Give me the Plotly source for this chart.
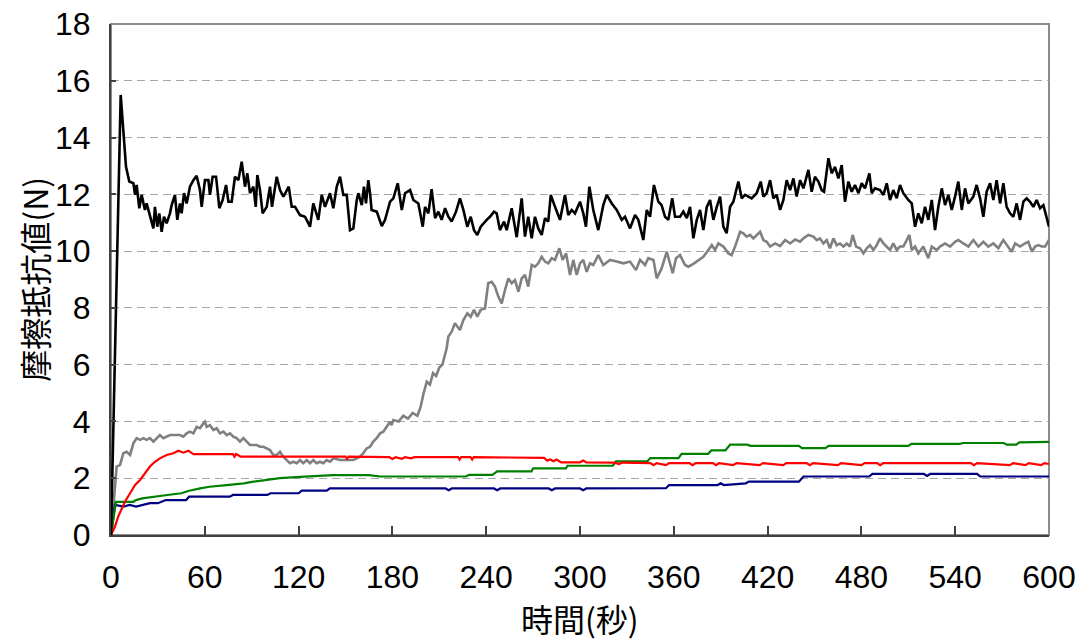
import plotly.graph_objects as go

# ---------------- data ----------------
black_t = [0, 6.2, 9.6, 11.7, 14.3, 15.4, 16.4, 18.1, 19.6, 21.7, 22.8, 24.9, 27.1, 28.1, 29.6, 30.9,
           32.4, 33.9, 35.6, 37.7, 38.8, 40.9, 42.4, 44.1, 45.2, 46.7, 48.4, 50.5, 52.7, 54.8, 56.9,
           58.0, 60.1, 62.3, 63.3, 65.0, 67.2, 69.3, 71.4, 73.6, 75.1, 77.2, 79.3, 81.5, 83.6, 85.7,
           87.2, 88.9, 91.1, 92.6, 93.6, 95.3, 97.0, 99.6, 101.7, 103.0, 106.0, 108.1, 110.3, 113.7,
           115.6, 117.7, 120.9, 124.1, 127.3, 129.4, 132.6, 134.8, 136.9, 140.1, 142.2, 144.4, 146.5,
           148.6, 150.8, 152.9,
           155.0, 157.2, 158.2, 160.4, 161.8, 163.1, 164.6, 165.7, 166.7, 170.0, 173.2, 175.3, 178.5,
           180.6, 183.4, 186.0, 188.1, 191.3, 193.4, 196.6, 199.4, 200.9, 203.0, 205.1, 207.3, 209.4,
           211.5, 213.7, 215.8, 217.9, 220.7, 223.2, 225.4, 227.9, 230.1, 232.2, 234.3, 236.5, 238.2,
           240.3, 242.4, 245.0, 246.7, 248.8, 251.4, 253.1, 256.3, 259.5, 262.7, 264.8, 266.9, 269.1,
           271.2, 273.3, 275.5, 277.6, 279.7, 281.3, 284.0, 287.2, 290.4, 292.5, 294.7, 296.8, 300.0,
           302.1, 303.8, 306.0, 308.5, 311.7, 314.9, 317.1, 320.3, 323.5, 326.7, 328.8, 332.0, 335.2,
           337.3, 340.5, 342.7, 344.8, 347.3, 350.1, 352.2, 354.4, 356.5, 359.0, 360.8,
           364.0, 366.1, 368.3, 370.4, 372.5, 374.7, 376.8, 378.9, 381.1, 383.2, 385.3, 387.5, 389.6,
           391.7, 393.8, 396.0, 398.1, 401.3, 403.4, 405.6, 407.7, 409.8, 413.0, 415.6, 417.3, 419.4,
           421.6, 423.7, 425.8, 428.0, 430.1, 432.2, 434.4, 436.5, 438.6, 440.8, 442.9, 446.1, 448.2,
           450.3, 452.5, 454.6, 456.1, 458.9, 461.0, 463.1, 465.3, 467.4, 469.5, 471.7, 473.8, 475.9,
           478.1, 480.2, 482.3, 485.1, 486.6, 488.7, 491.9, 494.1, 496.2, 498.3, 500.4, 502.6, 504.7,
           506.8, 510.0, 512.2, 514.3, 516.4, 518.6, 520.7, 522.8, 525.0, 527.1, 529.2, 531.4, 533.5,
           535.6, 537.8, 539.9, 542.0, 544.2, 546.3, 548.4, 551.6, 553.7, 555.9, 558.0, 560.1, 562.3,
           564.4, 566.5, 568.7, 570.8, 572.9, 575.1, 577.2, 579.3, 581.5, 583.6, 585.7, 587.9, 590.0,
           592.1, 594.3, 596.4, 598.5, 600.0]
black_v = [0, 15.50, 12.97, 12.45, 12.39, 11.98, 12.33, 11.51, 11.98, 11.45, 11.68, 11.21, 10.80, 11.56,
           10.86, 11.33, 10.68, 11.21, 10.98, 11.33, 11.62, 11.98, 11.10, 11.68, 11.33, 12.04, 11.68,
           12.27, 12.50, 12.65, 12.15, 11.56, 12.50, 12.50, 11.98, 12.62, 12.62, 11.51, 11.80, 12.33,
           11.74, 11.74, 12.62, 12.50, 13.15, 12.27, 12.74, 12.04, 12.27, 11.56, 12.68, 12.15, 11.33,
           11.56, 12.27, 11.56, 12.62, 12.15, 11.92, 12.27, 11.56, 11.56, 11.27, 11.21, 10.86, 11.68,
           11.10, 11.98, 11.56, 12.04, 11.51, 12.27, 12.62, 11.98, 11.98, 10.74,
           10.80, 11.80, 12.04, 11.62, 12.27, 11.68, 12.50, 12.04, 11.45, 11.39, 10.88, 11.10, 11.74,
           11.86, 12.39, 11.45, 12.04, 12.15, 11.80, 11.68, 10.86, 11.56, 11.33, 12.18, 11.16, 11.39,
           11.10, 11.51, 11.21, 11.04, 11.39, 11.86, 11.45, 10.86, 11.21, 10.74, 10.57, 10.86, 10.98,
           11.10, 11.21, 11.39, 11.33, 10.74, 11.04, 10.74, 11.51, 10.49, 11.86, 10.51, 11.21, 10.45,
           11.21, 10.80, 10.57, 11.16, 11.04, 11.98, 11.56, 11.10, 11.98, 11.27, 11.45, 11.33, 11.74,
           11.33, 10.86, 12.27, 11.45, 10.74, 11.62, 11.98, 11.68, 11.45, 11.10, 11.21, 10.80, 11.27,
           11.10, 10.39, 11.45, 11.21, 12.33, 11.74, 11.62, 11.21, 11.10, 11.86, 11.21,
           11.21, 11.39, 11.16, 11.56, 10.45, 11.10, 11.45, 10.74, 11.56, 11.80, 11.10, 11.56, 11.92,
           10.86, 10.63, 11.56, 11.74, 12.45, 11.86, 11.98, 11.92, 11.86, 12.04, 12.45, 11.92, 12.04,
           12.50, 11.86, 11.98, 11.45, 11.80, 12.50, 12.15, 12.56, 11.92, 12.50, 12.21, 12.86, 12.09,
           12.62, 12.45, 12.15, 12.09, 13.27, 12.74, 12.97, 12.56, 13.03, 11.74, 12.45, 12.09, 12.33,
           12.04, 12.39, 12.21, 12.74, 12.04, 12.21, 12.15, 11.98, 12.39, 11.80, 12.15, 11.86, 12.33,
           12.04, 11.80, 11.68, 10.86, 11.33, 10.98, 11.56, 11.10, 11.80, 10.74, 11.56, 12.21, 11.62,
           11.98, 11.45, 11.92, 12.45, 11.45, 12.21, 11.68, 11.92, 12.33, 11.86, 11.21, 12.09, 12.39,
           11.80, 12.50, 11.68, 12.39, 11.56, 11.33, 11.21, 11.68, 11.10, 11.74, 11.86, 11.74, 11.56,
           11.80, 11.51, 11.62, 11.21, 10.86]

gray_t = [0, 3.6, 5.8, 7.9, 10.0, 12.2, 14.3, 16.4, 18.6, 20.7, 22.8, 24.9, 27.1, 29.2, 31.3, 33.5,
          35.6, 37.7, 39.9, 44.1, 46.3, 48.4, 50.5, 52.7, 54.8, 56.9, 59.1, 60.1, 61.2, 63.3, 65.5,
          67.6, 69.7, 71.9, 74.0, 76.1, 78.2, 80.4, 82.5, 84.7, 86.8, 88.9, 91.0, 93.2, 95.3, 97.4,
          99.6, 101.7, 103.8, 106.0, 108.1, 110.2, 112.4, 114.5, 116.6, 118.8, 120.9, 123.0, 125.2,
          127.3, 129.4, 131.5, 133.7, 135.8, 137.9, 140.1, 142.2, 146.5, 150.7, 155.0, 157.1, 159.3,
          161.4, 163.5, 165.7, 167.8, 169.9, 172.1, 174.2, 176.3, 178.5, 179.5, 180.6,
          184.0, 187.0, 190.0, 193.0, 196.0, 198.0, 200.0, 202.0, 204.0, 206.0, 208.0, 210.0, 212.0,
          213.5, 214.7, 215.8, 217.9, 220.0, 221.5, 223.2, 225.4, 227.9, 230.1, 232.2, 234.3, 236.5,
          239.2, 241.3, 243.5, 245.6, 247.8, 249.9, 252.0, 254.2, 256.3, 258.4, 260.6, 262.7, 264.8,
          266.9, 269.1, 271.2, 273.3, 275.5, 277.6, 279.7, 281.9, 284.0, 286.8, 288.9, 291.1, 293.6,
          295.7, 297.9, 300.0, 302.1, 304.3, 306.4, 308.5, 311.7, 314.9, 319.2, 323.5, 327.7, 332.0,
          335.8, 338.4, 341.6, 343.7, 347.0, 349.1, 352.2, 355.5, 359.3, 361.4,
          364.0, 367.2, 369.3, 372.5, 375.7, 378.9, 382.1, 384.3, 386.4, 388.5, 391.7, 394.9, 397.0,
          399.2, 402.4, 404.5, 406.6, 408.8, 410.9, 413.0, 415.2, 417.3, 419.4, 421.6, 424.8, 428.0,
          431.2, 434.4, 437.6, 440.8, 442.9, 446.1, 449.3, 451.4, 453.5, 455.7, 457.8, 459.9, 462.1,
          464.2, 466.3, 468.5, 470.6, 472.7, 474.4, 476.6, 479.1, 481.3, 483.4, 485.5, 487.7, 489.8,
          491.9, 494.1, 496.2, 498.3, 500.4, 502.6, 504.7, 506.8, 509.0, 510.7, 512.2, 514.3, 516.4,
          519.6, 522.8, 525.0, 528.2, 530.3, 533.5, 536.7, 539.9, 542.0, 545.2, 548.4, 551.6, 554.8,
          558.0, 561.2, 564.4, 567.6, 570.8, 574.0, 576.1, 578.3, 581.5, 584.7, 586.8, 589.0, 591.1,
          593.2, 595.4, 597.5, 600.0]
gray_v = [0, 2.41, 2.47, 2.88, 2.93, 2.82, 3.23, 3.41, 3.35, 3.41, 3.35, 3.41, 3.29, 3.41, 3.52, 3.41,
          3.46, 3.52, 3.52, 3.52, 3.46, 3.58, 3.64, 3.58, 3.81, 3.76, 3.93, 3.99, 3.81, 3.87, 3.70,
          3.76, 3.58, 3.64, 3.52, 3.58, 3.46, 3.41, 3.29, 3.41, 3.29, 3.17, 3.17, 3.17, 3.11, 3.11,
          3.05, 2.99, 2.82, 2.82, 2.93, 2.76, 2.64, 2.53, 2.58, 2.53, 2.64, 2.53, 2.64, 2.53, 2.64,
          2.53, 2.58, 2.53, 2.64, 2.58, 2.70, 2.64, 2.64, 2.64, 2.70, 2.76, 2.88, 3.05, 3.11, 3.29,
          3.41, 3.58, 3.64, 3.81, 3.99, 3.87, 4.05,
          4.00, 4.20, 4.10, 4.30, 4.20, 4.50, 5.00, 5.40, 5.30, 5.70, 5.60, 5.90, 6.00, 6.30, 6.58,
          6.99, 7.16, 7.46, 7.34, 7.22, 7.57, 7.81, 7.69, 7.93, 7.69, 7.93, 7.98, 8.87, 8.92, 8.75,
          8.39, 8.16, 8.63, 9.04, 8.87, 8.98, 8.57, 9.04, 9.16, 8.75, 9.51, 9.45, 9.57, 9.80, 9.63,
          9.57, 9.75, 9.69, 10.10, 9.69, 9.92, 9.16, 9.69, 9.16, 9.57, 9.69, 9.27, 9.57, 9.51, 9.86,
          9.51, 9.69, 9.63, 9.57, 9.63, 9.33, 9.69, 9.51, 9.75, 9.69, 9.04, 9.39, 9.98, 9.22, 9.75,
          9.86, 9.51, 9.45, 9.55, 9.69, 9.80, 10.04, 10.21, 10.04, 10.27, 10.16, 9.92, 9.86, 10.16,
          10.68, 10.63, 10.51, 10.57, 10.45, 10.57, 10.68, 10.39, 10.33, 10.16, 10.27, 10.18, 10.39,
          10.27, 10.41, 10.33, 10.45, 10.57, 10.51, 10.39, 10.45, 10.27, 10.39, 10.10, 10.45, 10.21,
          10.27, 10.16, 10.27, 10.16, 10.57, 10.16, 10.10, 9.92, 10.10, 10.21, 10.04, 10.21, 10.45,
          10.27, 10.16, 10.04, 10.27, 10.04, 10.16, 10.16, 10.39, 10.57, 10.04, 10.16, 9.92, 10.16,
          9.75, 10.16, 10.04, 10.16, 10.27, 10.16, 10.33, 10.39, 10.27, 10.16, 10.39, 10.16, 10.33,
          10.16, 10.27, 10.10, 10.39, 10.16, 9.98, 10.27, 10.16, 10.27, 10.33, 9.98, 10.16, 10.21,
          10.16, 10.16, 10.39]

red_t = [0, 2.5, 4.6, 6.8, 8.9, 12.2, 15.4, 18.6, 21.7, 24.9, 28.1, 31.3, 35.6, 39.9, 43.1, 46.3,
         49.5, 52.7, 78.0, 79.0, 80.0, 83.0, 150.0, 151.0, 152.0, 178.0, 180.0, 182.0, 186.0, 188.0,
         192.0, 194.0, 222.0, 223.0, 224.0, 230.0, 231.0, 232.0, 277.0, 279.0, 281.0, 283.0, 285.0,
         288.0, 300.0, 302.0, 304.0, 322.0, 325.0, 327.0, 345.0, 347.0, 349.0, 355.0, 357.0, 370.0,
         372.0, 374.0, 385.0, 387.0, 389.0, 398.0, 400.0, 415.0, 417.0, 430.0, 432.0, 445.0, 447.0,
         449.0, 465.0, 467.0, 480.0, 482.0, 490.0, 492.0, 494.0, 550.0, 552.0, 554.0, 575.0, 577.0,
         585.0, 587.0, 595.0, 597.0, 600.0]
red_v = [0, 0.29, 0.65, 0.94, 1.17, 1.47, 1.76, 1.94, 2.17, 2.41, 2.58, 2.70, 2.82, 2.88, 2.97, 2.90,
         2.97, 2.85, 2.85, 2.76, 2.85, 2.76, 2.76, 2.68, 2.76, 2.74, 2.68, 2.74, 2.68, 2.74, 2.70,
         2.74, 2.74, 2.66, 2.74, 2.74, 2.66, 2.74, 2.72, 2.62, 2.66, 2.60, 2.66, 2.56, 2.56, 2.62,
         2.56, 2.55, 2.50, 2.55, 2.53, 2.46, 2.53, 2.46, 2.53, 2.53, 2.46, 2.53, 2.53, 2.46, 2.53,
         2.46, 2.53, 2.46, 2.53, 2.46, 2.53, 2.53, 2.46, 2.53, 2.46, 2.53, 2.46, 2.53, 2.53, 2.46,
         2.53, 2.53, 2.46, 2.53, 2.46, 2.53, 2.46, 2.53, 2.46, 2.53, 2.50]

green_t = [0, 3.2, 14.3, 16.0, 20.0, 30.0, 36.0, 45.0, 50.0, 57.0, 63.0, 74.0, 85.0, 91.0, 100.0,
           108.0, 121.0, 142.0, 165.0, 172.0, 227.0, 229.0, 244.0, 246.0, 247.0, 269.0, 270.0, 291.0,
           292.0, 321.0, 323.0, 343.0, 345.0, 363.0, 365.0, 382.0, 384.0, 393.0, 396.0, 407.0, 409.0,
           440.0, 442.0, 457.0, 459.0, 510.0, 512.0, 543.0, 545.0, 571.0, 573.0, 579.0, 581.0, 600.0]
green_v = [0, 1.17, 1.17, 1.23, 1.29, 1.35, 1.41, 1.47, 1.56, 1.64, 1.70, 1.76, 1.82, 1.88, 1.94,
           2.00, 2.05, 2.11, 2.11, 2.06, 2.06, 2.12, 2.12, 2.18, 2.24, 2.24, 2.35, 2.35, 2.44, 2.44,
           2.59, 2.59, 2.71, 2.71, 2.86, 2.86, 2.98, 2.98, 3.18, 3.18, 3.14, 3.14, 3.06, 3.06, 3.14,
           3.14, 3.21, 3.21, 3.24, 3.24, 3.18, 3.18, 3.26, 3.28]

blue_t = [0, 2.5, 8.0, 12.0, 16.0, 20.0, 25.0, 30.0, 35.0, 48.0, 50.0, 76.0, 78.0, 100.0, 102.0,
          120.0, 122.0, 138.0, 140.0, 214.0, 216.0, 218.0, 245.0, 247.0, 249.0, 280.0, 282.0, 284.0,
          300.0, 302.0, 304.0, 355.0, 357.0, 388.0, 390.0, 392.0, 406.0, 408.0, 440.0, 443.0, 485.0,
          487.0, 520.0, 522.0, 524.0, 554.0, 556.0, 600.0]
blue_v = [0, 1.06, 1.00, 1.06, 1.00, 1.06, 1.12, 1.12, 1.23, 1.23, 1.35, 1.35, 1.41, 1.41, 1.47,
          1.47, 1.56, 1.56, 1.64, 1.64, 1.58, 1.64, 1.64, 1.58, 1.64, 1.64, 1.58, 1.64, 1.64, 1.58,
          1.64, 1.65, 1.76, 1.76, 1.82, 1.76, 1.82, 1.88, 1.88, 2.06, 2.06, 2.15, 2.15, 2.08, 2.15,
          2.15, 2.06, 2.06]

x_ticks = [0, 60, 120, 180, 240, 300, 360, 420, 480, 540, 600]
y_ticks = [0, 2, 4, 6, 8, 10, 12, 14, 16, 18]
x_title = "時間(秒)"
y_title = "摩擦抵抗値(N)"

# ---------------- figure ----------------
fig = go.Figure()
series = [
    (gray_t, gray_v, "#808080", 2.6),
    (blue_t, blue_v, "#000080", 2.2),
    (green_t, green_v, "#008000", 2.2),
    (red_t, red_v, "#ff0000", 2.2),
    (black_t, black_v, "#000000", 2.6),
]
for t, v, c, w in series:
    fig.add_trace(go.Scatter(x=t, y=v, mode="lines", line=dict(color=c, width=w),
                             showlegend=False, hoverinfo="skip"))

tick_font = dict(family="Liberation Sans, Arial, sans-serif", size=32, color="#000000")
title_font = dict(family="Noto Sans CJK JP, sans-serif", size=32, color="#000000")

fig.update_layout(
    width=1082, height=641,
    margin=dict(l=111, r=33, t=24, b=106, autoexpand=False),
    paper_bgcolor="white", plot_bgcolor="white",
    showlegend=False,
    xaxis=dict(range=[0, 600], tickvals=x_ticks, ticks="inside", ticklen=9, tickwidth=1.5,
               tickcolor="#404040", showline=True, linecolor="#404040", linewidth=2,
               showgrid=False, zeroline=False, tickfont=tick_font, ticklabelstandoff=13,
               automargin=False),
    yaxis=dict(range=[0, 18], tickvals=y_ticks, ticks="inside", ticklen=5, tickwidth=1.5,
               tickcolor="#404040", showline=True, linecolor="#404040", linewidth=2,
               showgrid=True, gridcolor="#a6a6a6", gridwidth=1.3, griddash="8px,5px",
               zeroline=False, tickfont=tick_font, ticklabelstandoff=12, automargin=False),
    shapes=[dict(type="rect", xref="paper", yref="paper", x0=0, x1=1, y0=0, y1=1,
                 line=dict(color="#8c8c8c", width=2), layer="below")],
    annotations=[
        dict(text=x_title, xref="paper", yref="paper", x=0.5, y=-0.162, xanchor="center",
             yanchor="middle", showarrow=False, font=title_font, borderpad=0),
        dict(text=y_title, xref="paper", yref="paper", x=-0.083, y=0.5, xanchor="center",
             yanchor="middle", textangle=-90, showarrow=False, font=title_font, borderpad=0),
    ],
)

fig.write_html("out.html", config={"displayModeBar": False},
               post_script="document.body.style.margin='0';document.body.style.overflow='hidden';")
